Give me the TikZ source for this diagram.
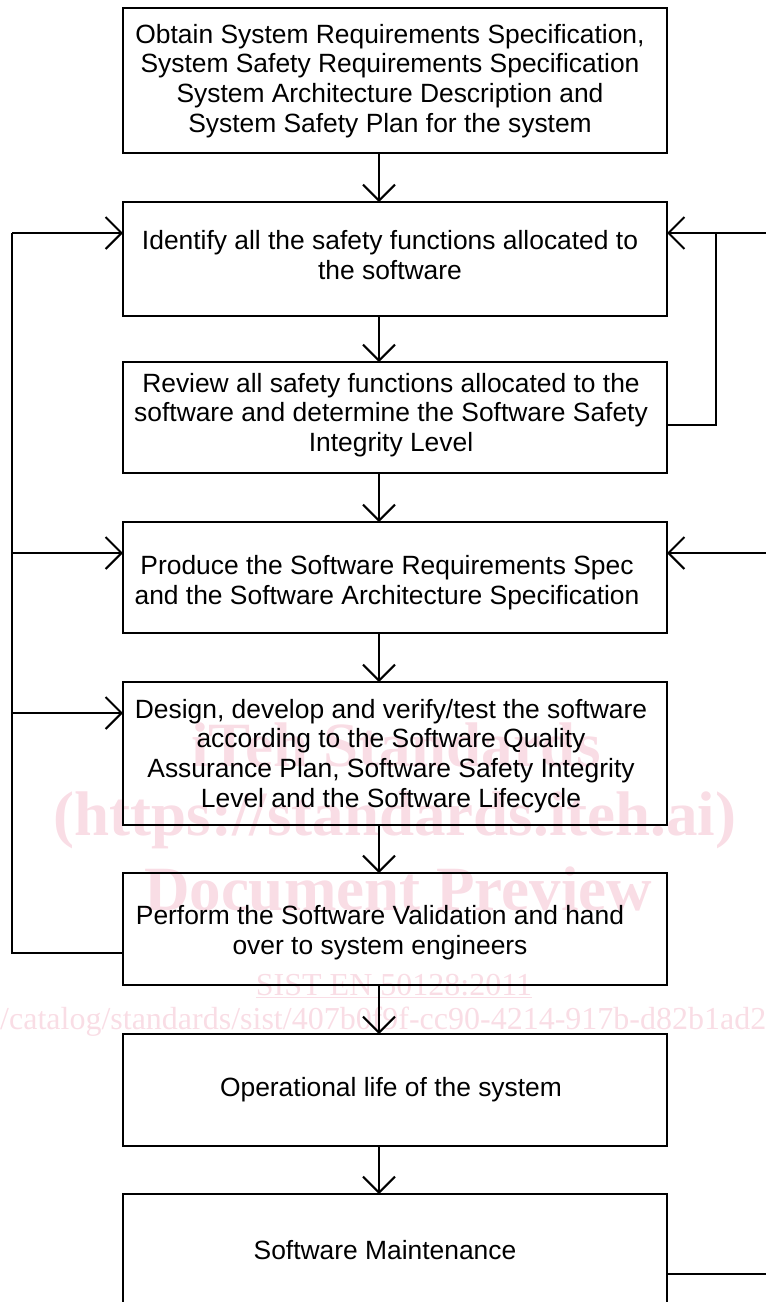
\documentclass[tikz,border=0pt]{standalone}
\usepackage{fontspec}
\setmainfont{Liberation Sans}
\newfontfamily\wmfont{Liberation Serif}
\usetikzlibrary{arrows.meta}
\definecolor{wmpink}{RGB}{249,221,229}
\begin{document}
\begin{tikzpicture}[x=1pt,y=1pt,
  box/.style={draw, line width=2.6pt, minimum width=544pt, inner sep=0pt, outer sep=0pt},
  txt/.style={align=center, font=\fontsize{26.4}{29.8}\selectfont, inner sep=0pt},
  conn/.style={line width=2pt},
  arr/.style={conn, -{Straight Barb[length=16pt,width=32pt]}},
  wm/.style={text=wmpink, font=\wmfont\bfseries\fontsize{63}{63}\selectfont, inner sep=0pt},
  wmsmall/.style={text=wmpink, font=\wmfont\fontsize{32}{32}\selectfont, inner sep=0pt}
]
\useasboundingbox (0,0) rectangle (766,-1302);
\clip (0,0) rectangle (766,-1302);

% watermark
\node[wm] (w1) at (396,-745) {iTeh Standards};
\node[wm] (w2) at (395,-820) {(https://standards.iteh.ai)};
\node[wm] (w3) at (398,-889) {Document Preview};
\node[wmsmall] (w4) at (394,-986) {\underline{SIST EN 50128:2011}};
\node[wmsmall, anchor=west] (w5) at (0,-1022) {/catalog/standards/sist/407b0f9f-cc90-4214-917b-d82b1ad2};

% boxes
\node[box, minimum height=145pt] (b1) at (395,-80.5) {};
\node[box, minimum height=114pt] (b2) at (395,-259) {};
\node[box, minimum height=111pt] (b3) at (395,-417.5) {};
\node[box, minimum height=111pt] (b4) at (395,-577.5) {};
\node[box, minimum height=143pt] (b5) at (395,-753.5) {};
\node[box, minimum height=112pt] (b6) at (395,-929) {};
\node[box, minimum height=112pt] (b7) at (395,-1090) {};
\node[box, minimum height=146pt] (b8) at (395,-1267) {};

% texts
\node[txt] (t1) at (390,-81) {Obtain System Requirements Specification,\\System Safety Requirements Specification\\System Architecture Description and\\System Safety Plan for the system};
\node[txt] (t2) at (390,-255) {Identify all the safety functions allocated to\\the software};
\node[txt] (t3) at (391,-415) {Review all safety functions allocated to the\\software and determine the Software Safety\\Integrity Level};
\node[txt] (t4) at (387,-583) {Produce the Software Requirements Spec\\and the Software Architecture Specification};
\node[txt] (t5) at (391,-756) {Design, develop and verify/test the software\\according to the Software Quality\\Assurance Plan, Software Safety Integrity\\Level and the Software Lifecycle};
\node[txt] (t6) at (380,-933) {Perform the Software Validation and hand\\over to system engineers};
\node[txt] (t7) at (391,-1090) {Operational life of the system};
\node[txt] (t8) at (385,-1250) {Software Maintenance};

% main flow
\foreach \a/\b in {b1/b2,b2/b3,b3/b4,b4/b5,b5/b6,b6/b7,b7/b8}
  \draw[arr] ([xshift=-16pt]\a.south) -- ([xshift=-16pt]\b.north);

% left feedback
\coordinate (lc) at (12,-233);
\coordinate (l4) at (12,-553);
\coordinate (l5) at (12,-713);
\draw[conn] ([yshift=-24pt]b6.west) -| (lc);
\draw[arr] (lc) -- ([yshift=26pt]b2.west);
\draw[arr] (l4) -- ([yshift=24.5pt]b4.west);
\draw[arr] (l5) -- ([yshift=40.5pt]b5.west);

% right feedback
\coordinate (r2) at (766,-233);
\coordinate (j2) at (716,-233);
\coordinate (r4) at (766,-553);
\coordinate (r8) at (766,-1274);
\draw[arr] (r2) -- ([yshift=26pt]b2.east);
\draw[conn] ([yshift=-7.5pt]b3.east) -| (j2);
\draw[arr] (r4) -- ([yshift=24.5pt]b4.east);
\draw[conn] ([yshift=-7pt]b8.east) -- (r8);
\end{tikzpicture}
\end{document}
